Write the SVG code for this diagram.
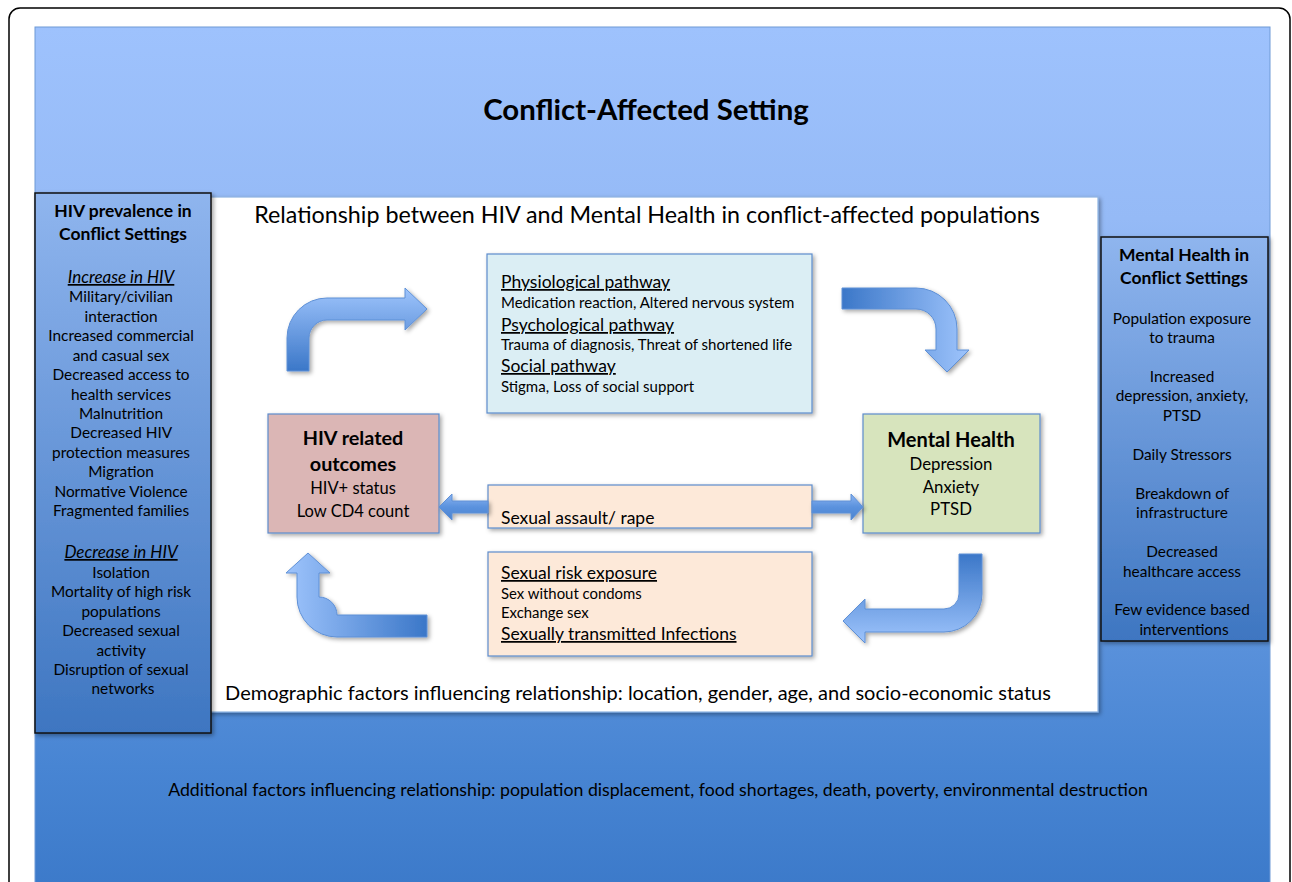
<svg xmlns="http://www.w3.org/2000/svg" width="1292" height="882" viewBox="0 0 1292 882">
<defs>
<linearGradient id="bg" x1="0" y1="0" x2="0" y2="1">
<stop offset="0" stop-color="#9ec2fd"/>
<stop offset="0.22" stop-color="#95baf6"/>
<stop offset="0.85" stop-color="#4885d3"/>
<stop offset="1" stop-color="#3b79c9"/>
</linearGradient>
<linearGradient id="panel" x1="0" y1="0" x2="0" y2="1">
<stop offset="0" stop-color="#8fb5ee"/>
<stop offset="1" stop-color="#3e76c1"/>
</linearGradient>
<linearGradient id="gDown" x1="0" y1="0" x2="0" y2="1">
<stop offset="0" stop-color="#9ec4fc"/>
<stop offset="1" stop-color="#3b77c8"/>
</linearGradient>
<linearGradient id="gUp" x1="0" y1="0" x2="0" y2="1">
<stop offset="0" stop-color="#3b77c8"/>
<stop offset="1" stop-color="#9ec4fc"/>
</linearGradient>
<linearGradient id="gRight" x1="0" y1="0" x2="1" y2="0">
<stop offset="0" stop-color="#3b77c8"/>
<stop offset="1" stop-color="#9ec4fc"/>
</linearGradient>
<linearGradient id="gLeft" x1="0" y1="0" x2="1" y2="0">
<stop offset="0" stop-color="#9ec4fc"/>
<stop offset="1" stop-color="#3b77c8"/>
</linearGradient>
<linearGradient id="gSmall" x1="0" y1="0" x2="0" y2="1">
<stop offset="0" stop-color="#8cb5f1"/>
<stop offset="0.5" stop-color="#5b92de"/>
<stop offset="1" stop-color="#4a83cf"/>
</linearGradient>
<filter id="sh" x="-10%" y="-10%" width="130%" height="130%">
<feDropShadow dx="2" dy="2" stdDeviation="2" flood-color="#000" flood-opacity="0.35"/>
</filter>
</defs>
<style>
text{font-family:Lato,"Liberation Sans",sans-serif;fill:#000}
.c{text-anchor:middle}
.b{font-weight:bold}
.u{text-decoration:underline}
.box{stroke:#5d8ccc;stroke-width:1.2;filter:url(#sh)}
.pan{fill:url(#panel);stroke:#111;stroke-width:1.5;filter:url(#sh)}
.arr{stroke:#5e90d6;stroke-width:1;filter:url(#sh)}
.pt{font-size:15.4px}
.bt{font-size:15px}
.ht{font-size:17.5px}
</style>
<rect x="9" y="8" width="1281" height="900" rx="11" fill="#fff" stroke="#000" stroke-width="1.5"/>
<g id="setting">
<rect x="35" y="27" width="1235" height="870" fill="url(#bg)" stroke="#6e9ad6" stroke-width="1"/>
<text x="646" y="120" class="c b" font-size="29.4">Conflict-Affected Setting</text>
<text x="658" y="796" class="c" font-size="17.7">Additional factors influencing relationship: population displacement, food shortages, death, poverty, environmental destruction</text>
</g>
<g id="relationship">
<rect x="207" y="197" width="891" height="515" fill="#fff" stroke="#8db3e2" stroke-width="1.2" filter="url(#sh)"/>
<text x="647" y="223" class="c" font-size="23.3">Relationship between HIV and Mental Health in conflict-affected populations</text>
<text x="638" y="700" class="c" font-size="20">Demographic factors influencing relationship: location, gender, age, and socio-economic status</text>
</g>
<g id="hiv-prevalence">
<rect x="35" y="193" width="176" height="540" class="pan"/>
<text class="c b" font-size="17.5" x="123"><tspan x="123" y="217">HIV prevalence in</tspan><tspan x="123" y="240">Conflict Settings</tspan></text>
<text class="c pt" x="123">
<tspan x="123" y="283" font-size="17" font-style="italic" text-decoration="underline">Increase in HIV</tspan>
<tspan x="123" y="302">Military/civilian</tspan>
<tspan x="123" y="322">interaction</tspan>
<tspan x="123" y="341">Increased commercial</tspan>
<tspan x="123" y="361">and casual sex</tspan>
<tspan x="123" y="380">Decreased access to</tspan>
<tspan x="123" y="400">health services</tspan>
<tspan x="123" y="419">Malnutrition</tspan>
<tspan x="123" y="438">Decreased HIV</tspan>
<tspan x="123" y="458">protection measures</tspan>
<tspan x="123" y="477">Migration</tspan>
<tspan x="123" y="497">Normative Violence</tspan>
<tspan x="123" y="516">Fragmented families</tspan>
<tspan x="123" y="558" font-size="17" font-style="italic" text-decoration="underline">Decrease in HIV</tspan>
<tspan x="123" y="578">Isolation</tspan>
<tspan x="123" y="597">Mortality of high risk</tspan>
<tspan x="123" y="617">populations</tspan>
<tspan x="123" y="636">Decreased sexual</tspan>
<tspan x="123" y="656">activity</tspan>
<tspan x="123" y="675">Disruption of sexual</tspan>
<tspan x="123" y="694">networks</tspan>
</text>
</g>
<g id="mental-health-conflict">
<rect x="1101" y="237" width="167" height="404" class="pan"/>
<text class="c b" font-size="17.5" x="1184"><tspan x="1184" y="261">Mental Health in</tspan><tspan x="1184" y="284">Conflict Settings</tspan></text>
<text class="c pt" x="1184">
<tspan x="1184" y="324">Population exposure</tspan>
<tspan x="1184" y="343">to trauma</tspan>
<tspan x="1184" y="382">Increased</tspan>
<tspan x="1184" y="401">depression, anxiety,</tspan>
<tspan x="1184" y="421">PTSD</tspan>
<tspan x="1184" y="460">Daily Stressors</tspan>
<tspan x="1184" y="499">Breakdown of</tspan>
<tspan x="1184" y="518">infrastructure</tspan>
<tspan x="1184" y="557">Decreased</tspan>
<tspan x="1184" y="577">healthcare access</tspan>
<tspan x="1184" y="615">Few evidence based</tspan>
<tspan x="1184" y="635">interventions</tspan>
</text>
</g>
<g id="pathways">
<rect x="487" y="254" width="325" height="159" fill="#dbeef4" class="box"/>
<text x="501" y="288" class="ht u">Physiological pathway</text>
<text x="501" y="308" class="bt">Medication reaction, Altered nervous system</text>
<text x="501" y="331" class="ht u">Psychological pathway</text>
<text x="501" y="350" class="bt">Trauma of diagnosis, Threat of shortened life</text>
<text x="501" y="372" class="ht u">Social pathway</text>
<text x="501" y="392" class="bt">Stigma, Loss of social support</text>
</g>
<g id="hiv-outcomes">
<rect x="268" y="414" width="171" height="119" fill="#dbb6b5" class="box"/>
<text x="353" y="445" class="c b" font-size="19.8">HIV related</text>
<text x="353" y="471" class="c b" font-size="19.8">outcomes</text>
<text x="353" y="494" class="c" font-size="16.5">HIV+ status</text>
<text x="353" y="517" class="c" font-size="16.5">Low CD4 count</text>
</g>
<g id="mental-health">
<rect x="863" y="414" width="177" height="119" fill="#d7e4bd" class="box"/>
<text x="951" y="447" class="c b" font-size="20">Mental Health</text>
<text x="951" y="470" class="c" font-size="16.8">Depression</text>
<text x="951" y="493" class="c" font-size="16.8">Anxiety</text>
<text x="951" y="515" class="c" font-size="16.8">PTSD</text>
</g>
<g id="sexual-assault">
<rect x="488" y="485" width="324" height="43" fill="#fde9d9" class="box"/>
<text x="501" y="524" font-size="17.5">Sexual assault/ rape</text>
</g>
<g id="sexual-risk">
<rect x="488" y="552" width="324" height="104" fill="#fde9d9" class="box"/>
<text x="501" y="579" class="ht u">Sexual risk exposure</text>
<text x="501" y="599" font-size="14.9">Sex without condoms</text>
<text x="501" y="618" font-size="14.9">Exchange sex</text>
<text x="501" y="640" class="ht u">Sexually transmitted Infections</text>
</g>
<g id="connectors">
<path class="arr" fill="url(#gDown)" d="M287,371 L287,338 A40,40 0 0 1 327,298 L405,298 L405,288 L427,309 L405,330 L405,320 L327,320 A18,18 0 0 0 309,338 L309,371 Z"/>
<path class="arr" fill="url(#gRight)" d="M842,288 L916,288 A41,41 0 0 1 957,329 L957,350 L969,350 L947,372 L925,350 L936,350 L936,329 A20,20 0 0 0 916,309 L842,309 Z"/>
<path class="arr" fill="url(#gUp)" d="M959,554 L982,554 L982,594 A38,38 0 0 1 944,632 L865,632 L865,643 L843,621 L865,599 L865,609 L944,609 A15,15 0 0 0 959,594 Z"/>
<path class="arr" fill="url(#gLeft)" d="M427,615 L337,615 A18,18 0 0 0 319,597 L319,573 L330,573 L308,553 L286,573 L297,573 L297,597 A40,40 0 0 0 337,637 L427,637 Z"/>
<path class="arr" fill="url(#gSmall)" d="M488,501 L452,501 L452,494 L439,507 L452,520 L452,513 L488,513 Z"/>
<path class="arr" fill="url(#gSmall)" d="M812,501 L851,501 L851,494 L863,507 L851,520 L851,513 L812,513 Z"/>
</g>
</svg>
